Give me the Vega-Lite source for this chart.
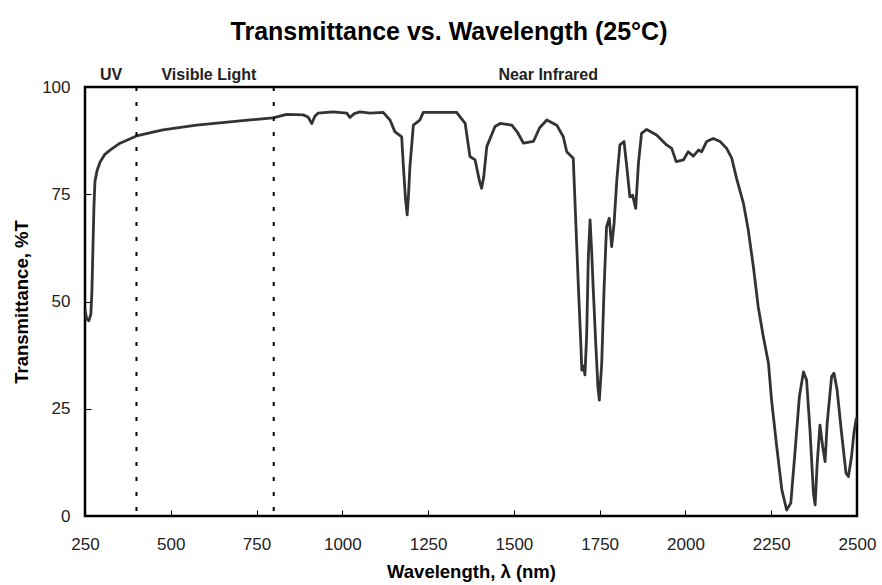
{
  "$schema": "https://vega.github.io/schema/vega-lite/v6.json",
  "width": 772,
  "height": 429,
  "autosize": {"type": "none"},
  "padding": {"left": 85, "top": 87, "right": 25, "bottom": 69},
  "background": "white",
  "config": {
    "view": {"stroke": "black", "strokeWidth": 2.5},
    "font": "Liberation Sans"
  },
  "title": {
    "text": "Transmittance vs. Wavelength (25°C)",
    "font": "Liberation Sans",
    "fontSize": 25,
    "fontWeight": "bold",
    "color": "black",
    "anchor": "middle",
    "dx": -22,
    "offset": 22
  },
  "layer": [
    {
      "data": {
        "values": [
          {"wl": 250, "t": 48}, {"wl": 255, "t": 46}, {"wl": 261, "t": 45.5}, {"wl": 267, "t": 47},
          {"wl": 270, "t": 52}, {"wl": 273, "t": 62}, {"wl": 276, "t": 72}, {"wl": 279, "t": 78},
          {"wl": 285, "t": 80.5}, {"wl": 294, "t": 82.5}, {"wl": 308, "t": 84.3}, {"wl": 323, "t": 85.3},
          {"wl": 352, "t": 86.9}, {"wl": 400, "t": 88.6}, {"wl": 477, "t": 90}, {"wl": 575, "t": 91.1},
          {"wl": 702, "t": 92.1}, {"wl": 798, "t": 92.8}, {"wl": 838, "t": 93.6}, {"wl": 886, "t": 93.5},
          {"wl": 900, "t": 93}, {"wl": 911, "t": 91.5}, {"wl": 920, "t": 93.2}, {"wl": 929, "t": 93.9},
          {"wl": 973, "t": 94.2}, {"wl": 1013, "t": 93.9}, {"wl": 1022, "t": 92.9}, {"wl": 1035, "t": 93.8},
          {"wl": 1051, "t": 94.2}, {"wl": 1081, "t": 93.9}, {"wl": 1119, "t": 94.1}, {"wl": 1139, "t": 92.3},
          {"wl": 1153, "t": 89.6}, {"wl": 1173, "t": 88.4}, {"wl": 1178, "t": 81.4}, {"wl": 1184, "t": 74},
          {"wl": 1189, "t": 70.2}, {"wl": 1193, "t": 75}, {"wl": 1197, "t": 81.4}, {"wl": 1207, "t": 91.1},
          {"wl": 1226, "t": 92.3}, {"wl": 1236, "t": 94.1}, {"wl": 1333, "t": 94.1}, {"wl": 1358, "t": 91.5},
          {"wl": 1372, "t": 83.8}, {"wl": 1387, "t": 83.0}, {"wl": 1400, "t": 78}, {"wl": 1406, "t": 76.4},
          {"wl": 1412, "t": 79}, {"wl": 1421, "t": 86.1}, {"wl": 1445, "t": 90.8}, {"wl": 1460, "t": 91.5},
          {"wl": 1494, "t": 91.1}, {"wl": 1510, "t": 89.5}, {"wl": 1528, "t": 86.9}, {"wl": 1557, "t": 87.3},
          {"wl": 1575, "t": 90.5}, {"wl": 1596, "t": 92.3}, {"wl": 1625, "t": 91.1}, {"wl": 1644, "t": 88.4},
          {"wl": 1654, "t": 84.9}, {"wl": 1673, "t": 83.4}, {"wl": 1681, "t": 67.4}, {"wl": 1688, "t": 53.4},
          {"wl": 1695, "t": 40.3}, {"wl": 1698, "t": 34.0}, {"wl": 1703, "t": 35}, {"wl": 1707, "t": 32.9},
          {"wl": 1712, "t": 41.8}, {"wl": 1717, "t": 60.4}, {"wl": 1722, "t": 69.0}, {"wl": 1727, "t": 61.2},
          {"wl": 1731, "t": 53.4}, {"wl": 1739, "t": 39.5}, {"wl": 1745, "t": 30}, {"wl": 1749, "t": 27.0},
          {"wl": 1756, "t": 35.6}, {"wl": 1763, "t": 53.4}, {"wl": 1770, "t": 67.4}, {"wl": 1778, "t": 69.4},
          {"wl": 1785, "t": 62.8}, {"wl": 1792, "t": 68.2}, {"wl": 1800, "t": 78.3}, {"wl": 1809, "t": 86.5},
          {"wl": 1821, "t": 87.3}, {"wl": 1830, "t": 80.7}, {"wl": 1838, "t": 74.4}, {"wl": 1846, "t": 74.8},
          {"wl": 1855, "t": 71.7}, {"wl": 1863, "t": 82.2}, {"wl": 1872, "t": 89.2}, {"wl": 1887, "t": 90.1},
          {"wl": 1916, "t": 88.8}, {"wl": 1945, "t": 86.5}, {"wl": 1960, "t": 85.7}, {"wl": 1973, "t": 82.6},
          {"wl": 1994, "t": 83.0}, {"wl": 2008, "t": 84.9}, {"wl": 2023, "t": 83.9}, {"wl": 2038, "t": 85.3},
          {"wl": 2047, "t": 84.9}, {"wl": 2062, "t": 87.3}, {"wl": 2081, "t": 88.0}, {"wl": 2101, "t": 87.3},
          {"wl": 2120, "t": 85.7}, {"wl": 2135, "t": 83.4}, {"wl": 2149, "t": 78.7}, {"wl": 2169, "t": 72.9},
          {"wl": 2183, "t": 66.7}, {"wl": 2198, "t": 58.1}, {"wl": 2212, "t": 48.8}, {"wl": 2227, "t": 41.8},
          {"wl": 2242, "t": 35.6}, {"wl": 2251, "t": 27.0}, {"wl": 2266, "t": 16.2}, {"wl": 2281, "t": 6.1},
          {"wl": 2295, "t": 1.4}, {"wl": 2307, "t": 3.0}, {"wl": 2319, "t": 14.6}, {"wl": 2332, "t": 27.8},
          {"wl": 2344, "t": 33.6}, {"wl": 2353, "t": 31.7}, {"wl": 2363, "t": 20.0}, {"wl": 2373, "t": 5.3},
          {"wl": 2378, "t": 2.6}, {"wl": 2384, "t": 12.3}, {"wl": 2392, "t": 21.2}, {"wl": 2400, "t": 16.2},
          {"wl": 2407, "t": 12.7}, {"wl": 2413, "t": 21.6}, {"wl": 2426, "t": 32.5}, {"wl": 2433, "t": 33.3},
          {"wl": 2442, "t": 29.4}, {"wl": 2455, "t": 19.3}, {"wl": 2468, "t": 10.0}, {"wl": 2475, "t": 9.2},
          {"wl": 2484, "t": 13.8}, {"wl": 2491, "t": 19.3}, {"wl": 2497, "t": 22.4}, {"wl": 2500, "t": 23}
        ]
      },
      "mark": {"type": "line", "color": "#333333", "strokeWidth": 2.8, "clip": true, "strokeJoin": "round"},
      "encoding": {
        "x": {
          "field": "wl",
          "type": "quantitative",
          "scale": {"domain": [250, 2500], "nice": false, "zero": false},
          "axis": {
            "values": [250, 500, 750, 1000, 1250, 1500, 1750, 2000, 2250, 2500],
            "format": "d",
            "title": "Wavelength, λ (nm)",
            "titleFont": "Liberation Sans",
            "titleFontSize": 18.5,
            "titleFontWeight": "bold",
            "titleColor": "black",
            "titlePadding": 10,
            "labelFont": "Liberation Sans",
            "labelFontSize": 17,
            "labelColor": "#222222",
            "labelPadding": 26,
            "labelFlush": false,
            "labelOverlap": false,
            "tickSize": -6,
            "tickColor": "black",
            "tickWidth": 1,
            "domain": false,
            "grid": false
          }
        },
        "y": {
          "field": "t",
          "type": "quantitative",
          "scale": {"domain": [0, 100], "nice": false},
          "axis": {
            "values": [0, 25, 50, 75, 100],
            "format": "d",
            "title": "Transmittance, %T",
            "titleFont": "Liberation Sans",
            "titleFontSize": 18.5,
            "titleFontWeight": "bold",
            "titleColor": "black",
            "titlePadding": 10,
            "labelFont": "Liberation Sans",
            "labelFontSize": 17,
            "labelColor": "#222222",
            "labelPadding": 21,
            "labelFlush": false,
            "labelOverlap": false,
            "tickSize": -6,
            "tickColor": "black",
            "tickWidth": 1,
            "domain": false,
            "grid": false
          }
        }
      }
    },
    {
      "data": {"values": [{"wl": 400}, {"wl": 800}]},
      "mark": {"type": "rule", "color": "black", "strokeWidth": 2, "strokeDash": [4, 11]},
      "encoding": {
        "x": {"field": "wl", "type": "quantitative"}
      }
    },
    {
      "data": {
        "values": [
          {"wl": 326, "label": "UV"},
          {"wl": 611, "label": "Visible Light"},
          {"wl": 1600, "label": "Near Infrared"}
        ]
      },
      "mark": {"type": "text", "font": "Liberation Sans", "fontSize": 16, "fontWeight": "bold", "color": "#222222", "baseline": "alphabetic", "align": "center", "clip": false},
      "encoding": {
        "x": {"field": "wl", "type": "quantitative"},
        "y": {"datum": 101.6},
        "text": {"field": "label"}
      }
    }
  ]
}
